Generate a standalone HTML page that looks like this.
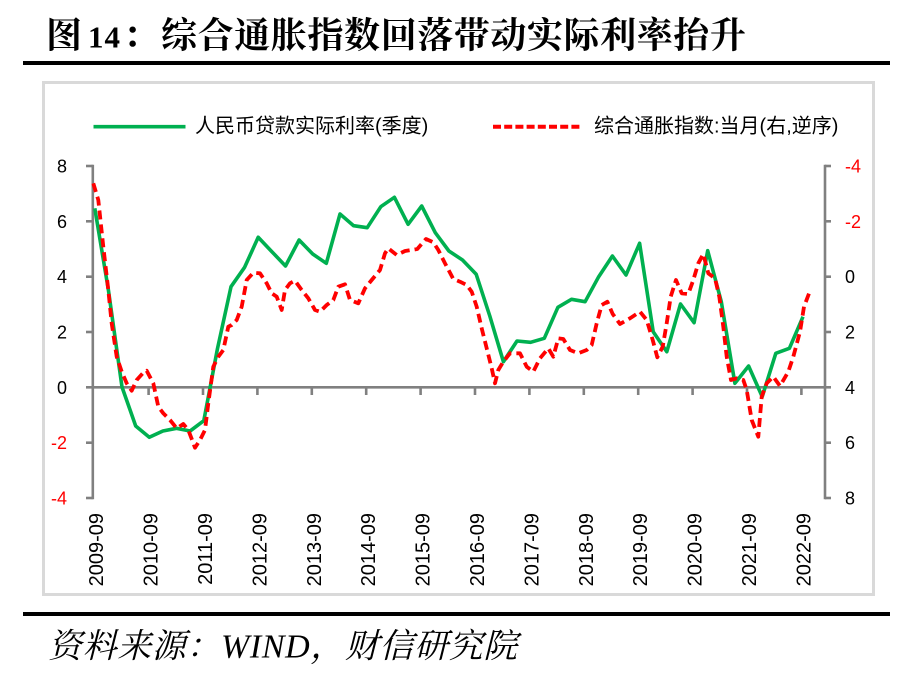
<!DOCTYPE html>
<html>
<head>
<meta charset="utf-8">
<style>
html,body{margin:0;padding:0;background:#fff;}
svg{display:block;}
</style>
</head>
<body>
<svg width="916" height="681" viewBox="0 0 916 681" xmlns="http://www.w3.org/2000/svg">
<rect x="0" y="0" width="916" height="681" fill="#fff"/>
<!-- Title -->
<text x="46" y="47.5" font-family="'Noto Serif CJK SC', serif" font-weight="bold" font-size="36" fill="#000">图</text>
<text x="88" y="47.3" font-family="'Liberation Serif', serif" font-weight="bold" font-size="31" letter-spacing="1" fill="#000">14</text>
<text x="123" y="47.5" font-family="'Noto Serif CJK SC', serif" font-weight="bold" font-size="36" fill="#000">：</text>
<text x="161" y="47.5" font-family="'Noto Serif CJK SC', serif" font-weight="bold" font-size="36" letter-spacing="0.6" fill="#000">综合通胀指数回落带动实际利率抬升</text>
<rect x="23" y="61" width="867" height="4" fill="#000"/>

<!-- Chart frame -->
<rect x="43.5" y="82.5" width="830" height="512" fill="#fff" stroke="#d9d9d9" stroke-width="3"/>

<!-- Legend -->
<line x1="93.5" y1="126.7" x2="185.5" y2="126.7" stroke="#00B050" stroke-width="3.6"/>
<text x="195" y="132.5" font-family="'Liberation Sans','Noto Sans CJK SC',sans-serif" font-size="20" fill="#000">人民币贷款实际利率(季度)</text>
<line x1="493" y1="126.7" x2="581" y2="126.7" stroke="#FF0000" stroke-width="4" stroke-dasharray="8 3.2"/>
<text x="594" y="132.5" font-family="'Liberation Sans','Noto Sans CJK SC',sans-serif" font-size="20" fill="#000">综合通胀指数:当月(右,逆序)</text>

<!-- Axes -->
<g stroke="#808080" stroke-width="2.6" fill="none">
  <line x1="92.8" y1="164.7" x2="92.8" y2="499.3"/>
  <line x1="825" y1="164.7" x2="825" y2="499.3"/>
  <line x1="86" y1="387.3" x2="825" y2="387.3"/>
  <line x1="86" y1="166" x2="92.8" y2="166"/>
  <line x1="86" y1="221.3" x2="92.8" y2="221.3"/>
  <line x1="86" y1="276.7" x2="92.8" y2="276.7"/>
  <line x1="86" y1="332" x2="92.8" y2="332"/>
  <line x1="86" y1="442.7" x2="92.8" y2="442.7"/>
  <line x1="86" y1="498" x2="92.8" y2="498"/>
  <line x1="825" y1="166" x2="831" y2="166"/>
  <line x1="825" y1="221.3" x2="831" y2="221.3"/>
  <line x1="825" y1="276.7" x2="831" y2="276.7"/>
  <line x1="825" y1="332" x2="831" y2="332"/>
  <line x1="825" y1="387.3" x2="831" y2="387.3"/>
  <line x1="825" y1="442.7" x2="831" y2="442.7"/>
  <line x1="825" y1="498" x2="831" y2="498"/>
  <line x1="148.6" y1="387.3" x2="148.6" y2="395"/>
  <line x1="203" y1="387.3" x2="203" y2="395"/>
  <line x1="257.4" y1="387.3" x2="257.4" y2="395"/>
  <line x1="311.8" y1="387.3" x2="311.8" y2="395"/>
  <line x1="366.2" y1="387.3" x2="366.2" y2="395"/>
  <line x1="420.6" y1="387.3" x2="420.6" y2="395"/>
  <line x1="475" y1="387.3" x2="475" y2="395"/>
  <line x1="529.4" y1="387.3" x2="529.4" y2="395"/>
  <line x1="583.8" y1="387.3" x2="583.8" y2="395"/>
  <line x1="638.2" y1="387.3" x2="638.2" y2="395"/>
  <line x1="692.6" y1="387.3" x2="692.6" y2="395"/>
  <line x1="747" y1="387.3" x2="747" y2="395"/>
  <line x1="801.4" y1="387.3" x2="801.4" y2="395"/>
</g>

<!-- Left axis labels -->
<g font-family="'Liberation Sans',sans-serif" font-size="18" text-anchor="end">
  <text x="67" y="172.5" fill="#000">8</text>
  <text x="67" y="227.8" fill="#000">6</text>
  <text x="67" y="283.2" fill="#000">4</text>
  <text x="67" y="338.5" fill="#000">2</text>
  <text x="67" y="393.8" fill="#000">0</text>
  <text x="67" y="449.2" fill="#FF0000">-2</text>
  <text x="67" y="504.5" fill="#FF0000">-4</text>
</g>
<!-- Right axis labels -->
<g font-family="'Liberation Sans',sans-serif" font-size="18" text-anchor="start">
  <text x="845" y="172.5" fill="#FF0000">-4</text>
  <text x="845" y="227.8" fill="#FF0000">-2</text>
  <text x="845" y="283.2" fill="#000">0</text>
  <text x="845" y="338.5" fill="#000">2</text>
  <text x="845" y="393.8" fill="#000">4</text>
  <text x="845" y="449.2" fill="#000">6</text>
  <text x="845" y="504.5" fill="#000">8</text>
</g>
<!-- X labels -->
<g font-family="'Liberation Sans',sans-serif" font-size="20" fill="#000" text-anchor="end" dominant-baseline="central">
  <text transform="translate(97,513) rotate(-90)">2009-09</text>
  <text transform="translate(151.6,513) rotate(-90)">2010-09</text>
  <text transform="translate(206,513) rotate(-90)">2011-09</text>
  <text transform="translate(260.4,513) rotate(-90)">2012-09</text>
  <text transform="translate(314.8,513) rotate(-90)">2013-09</text>
  <text transform="translate(369.2,513) rotate(-90)">2014-09</text>
  <text transform="translate(423.6,513) rotate(-90)">2015-09</text>
  <text transform="translate(478,513) rotate(-90)">2016-09</text>
  <text transform="translate(532.4,513) rotate(-90)">2017-09</text>
  <text transform="translate(586.8,513) rotate(-90)">2018-09</text>
  <text transform="translate(641.2,513) rotate(-90)">2019-09</text>
  <text transform="translate(695.6,513) rotate(-90)">2020-09</text>
  <text transform="translate(750,513) rotate(-90)">2021-09</text>
  <text transform="translate(804.4,513) rotate(-90)">2022-09</text>
</g>

<!-- Green series -->
<polyline fill="none" stroke="#00B050" stroke-width="3.6" stroke-linejoin="round" points="
94.8,208.3 108.4,290 122.0,387 135.7,426 149.3,437.3 162.9,431 176.5,428.3 190.1,431 203.8,420.7 217.4,349
231.0,286.7 244.6,267.3 258.2,237.3 271.9,251.7 285.5,266 299.1,240 312.7,254 326.3,263.3 340.0,214 353.6,225.7
367.2,227.7 380.8,206.7 394.4,197.3 408.1,224.3 421.7,206 435.3,232.7 448.9,251 462.5,260 476.2,274.3 489.8,316
503.4,361.7 517.0,341 530.6,342.3 544.3,338.3 557.9,307.3 571.5,299.3 585.1,301.7 598.7,276.7 612.4,256 626.0,275
639.6,243.3 653.2,331.7 666.8,351.7 680.5,304 694.1,322.7 707.7,250.7 721.3,301.7 734.9,383.3 748.6,366 762.2,396.7
775.8,353.3 789.4,348.3 803.0,316.7"/>

<!-- Red series -->
<polyline fill="none" stroke="#FF0000" stroke-width="3.8" stroke-dasharray="9 5" stroke-linejoin="round" points="
93.3,183.3 98.3,200 103.3,246.7 108.3,290 111.7,323.3 116.7,356.7 121.7,371.7 126.7,383.3 131.7,390.7 136.7,380
143.3,372.7 146.7,370.7 153.3,383.3 158.3,406.7 163.3,413.3 170,420 176.7,428.3 183.3,424 188.3,430 195,447.7
200,440 205,430 208.3,403.3 213.3,366.7 218.3,356.7 223.3,350 228.3,326.7 231.7,325 236.7,320 241.7,306.7
246.7,280 253.3,272.7 260,273.3 266.7,283.3 271.7,293.3 276.7,296.7 281.7,310 285,290 290,283.3 295,280.7
301.7,290 308.3,298.3 315,310 320,311.7 326.7,305 333.3,300 338.3,286.7 345,284.3 350,300 358.3,303.3
365,288.3 371.7,280 380,270 385,253.3 388.3,248.3 396.7,255 405,251 417.3,249 426,239 433.3,242.3
438.3,250 445,263.3 453.3,279 460,281.7 466.7,285 471.7,291.7 476.7,306.7 481.7,328.3 486.7,348.3 491.7,368.3
495,383.3 498.3,370 503.3,361.7 510,353.3 520,353.3 526.7,366.7 533.3,371.7 540,358.3 548.3,348.3 553.3,356.7
558.3,338.3 563.3,339 570,350 578.3,353.3 586.7,350 591.7,345 596.7,323.3 601.7,305 607.3,301.7 612.7,314
620,324 630,318.3 640,311.7 646.7,320 652.7,340 657.3,357.3 662.7,346.7 666.7,323.3 670.7,296.7 676,280
681.7,293.3 688.3,294 693.3,280 698.3,263.3 703.3,254 708.3,273.3 715,278.3 719.3,296.7 723.3,326.7 726.7,356.7
731,380 736.7,378.3 743.3,380 746.7,390 751.7,420 758.3,436.7 761.7,396.7 766.7,383.3 773.3,376.7 780,386
788.3,371.7 793.3,356.7 800,331.7 804,306.7 809.3,292.7"/>

<!-- Footer -->
<rect x="23" y="612" width="867" height="4" fill="#000"/>
<text x="48" y="657.5" font-family="'Liberation Serif','Noto Serif CJK SC',serif" font-style="italic" font-size="34" letter-spacing="0.6" fill="#000">资料来源：WIND，财信研究院</text>
</svg>
</body>
</html>
